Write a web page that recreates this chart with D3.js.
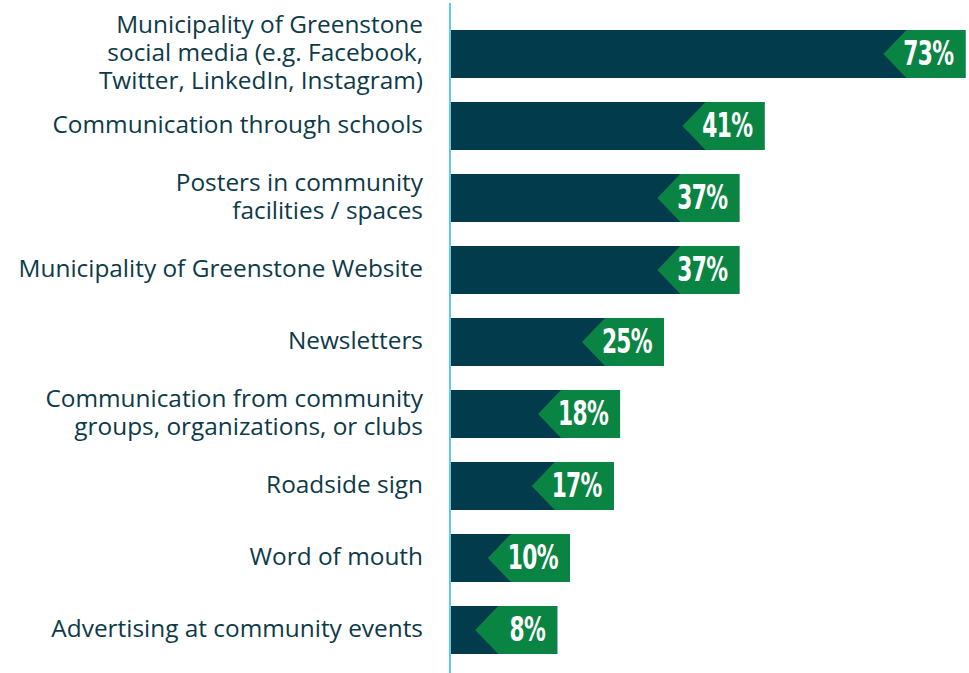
<!DOCTYPE html>
<html><head><meta charset="utf-8">
<script src="https://cdn.jsdelivr.net/npm/d3@7"></script>
<style>body{margin:0;background:#fff}svg{display:block}</style>
</head><body>
<svg id="c" width="969" height="673"></svg>
<script>
const categories = [
  "Municipality of Greenstone\nsocial media (e.g. Facebook,\nTwitter, LinkedIn, Instagram)",
  "Communication through schools",
  "Posters in community\nfacilities / spaces",
  "Municipality of Greenstone Website",
  "Newsletters",
  "Communication from community\ngroups, organizations, or clubs",
  "Roadside sign",
  "Word of mouth",
  "Advertising at community events"
];
const values = [73, 41, 37, 37, 25, 18, 17, 10, 8];
const valueLabels = ["73%", "41%", "37%", "37%", "25%", "18%", "17%", "10%", "8%"];

const svg = d3.select("#c");
const axisX = 450, barX0 = 451, badgeMin = 56, badgeW = 82, notch = 23;
const x = d3.scaleLinear().domain([0, 100]).range([0, 628]);
const y = d3.scaleBand().domain(categories).range([18, 666]).paddingInner(1/3).paddingOuter(1/6);

const g = svg.append("g");
const rows = g.selectAll("g.row").data(categories.map((c, i) => ({c, v: values[i], l: valueLabels[i]})))
  .enter().append("g").attr("class", "row");

rows.append("rect")
  .attr("x", barX0).attr("y", d => y(d.c))
  .attr("width", d => badgeMin + x(d.v)).attr("height", y.bandwidth())
  .attr("fill", "#023b4b");

rows.append("path")
  .attr("d", d => {
    const r = barX0 + badgeMin + x(d.v), l = r - badgeW, t = y(d.c), b = t + y.bandwidth(), m = t + y.bandwidth()/2;
    return `M${l},${m}L${l+notch},${t}L${r},${t}L${r},${b}L${l+notch},${b}Z`;
  })
  .attr("fill", "#0a8443");

rows.append("text")
  .attr("transform", d => `translate(${barX0 + badgeMin + x(d.v) - 12},${y(d.c) + y.bandwidth() - 13}) scale(0.66,1)`)
  .attr("text-anchor", "end")
  .attr("fill", "#fff")
  .style("font-family", "'DejaVu Sans', sans-serif")
  .style("font-weight", "bold")
  .style("font-size", "33px")
  .style("letter-spacing", "-1px")
  .text(d => d.l);

const lab = rows.append("text")
  .attr("text-anchor", "end")
  .attr("fill", "#0d3a48")
  .style("font-family", "'Open Sans', sans-serif")
  .style("font-size", "24.4px");
lab.each(function(d) {
  const lines = d.c.split("\n");
  const cy = y(d.c) + y.bandwidth()/2;
  d3.select(this).selectAll("tspan").data(lines).enter().append("tspan")
    .attr("x", 423)
    .attr("y", (t, i) => cy + (i - (lines.length - 1)/2) * 28 + 7)
    .text(t => t);
});

svg.append("line").attr("x1", axisX).attr("x2", axisX).attr("y1", 3).attr("y2", 673)
  .attr("stroke", "#5ccbf0").attr("stroke-width", 2);
</script>
</body></html>
